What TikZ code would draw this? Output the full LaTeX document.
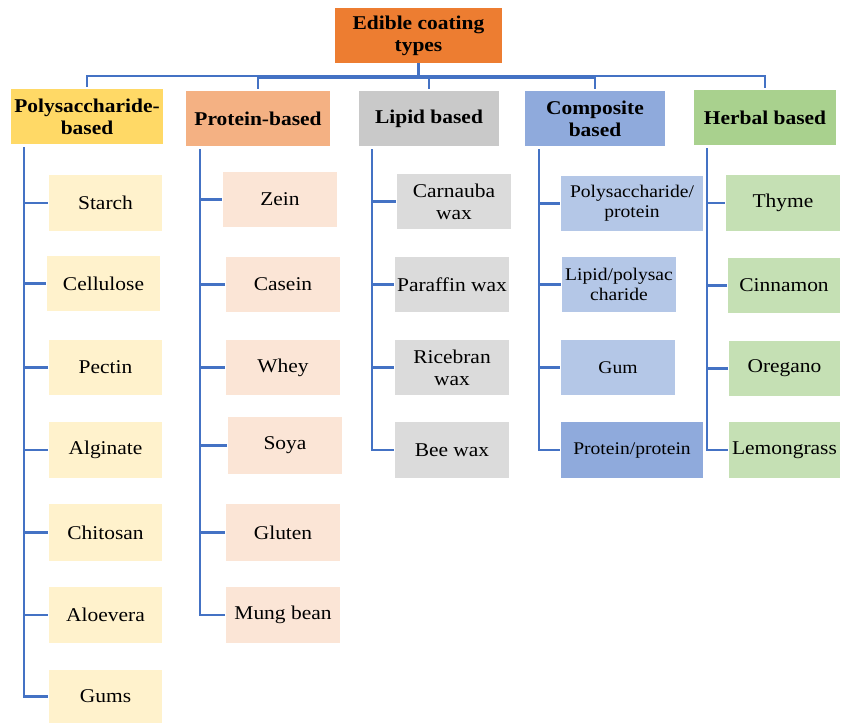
\documentclass[tikz,border=0pt]{standalone}
\usepackage{fontspec}
\setmainfont{Liberation Serif}[FakeStretch=1.1]
\definecolor{rootc}{HTML}{ED7D31}
\definecolor{linec}{HTML}{4472C4}
\definecolor{polyc}{HTML}{FFD966}
\definecolor{polyl}{HTML}{FFF2CC}
\definecolor{protc}{HTML}{F4B183}
\definecolor{protl}{HTML}{FBE5D6}
\definecolor{lipc}{HTML}{C9C9C9}
\definecolor{lipl}{HTML}{DBDBDB}
\definecolor{compc}{HTML}{8FAADC}
\definecolor{compl}{HTML}{B4C7E7}
\definecolor{herbc}{HTML}{A9D18E}
\definecolor{herbl}{HTML}{C5E0B4}
\tikzset{
  box/.style={inner sep=0pt, align=center, font=\fontsize{19.5}{22}\selectfont},
  cat/.style={box, font=\fontsize{19.5}{22}\selectfont\bfseries},
  smallbox/.style={box, font=\fontsize{17.8}{20}\selectfont},
  conn/.style={draw=linec, line width=2.2pt},
}
\newcommand\bx[7]{\node[#1, minimum width={(#5-#3)*1pt}, minimum height={(#6-#4)*1pt}] (#2) at ({(#3+#5)/2},{(#4+#6)/2}) {#7};}
\begin{document}
\begin{tikzpicture}[x=1pt,y=-1pt]
\useasboundingbox (0,0) rectangle (841,723);
% root and categories
\bx{cat,fill=rootc}{root}{335}{8}{502}{63}{Edible coating\\types}
\bx{cat,fill=polyc}{poly}{11}{89}{163}{144}{Polysaccharide-\\based}
\bx{cat,fill=protc}{prot}{186}{91}{330}{146}{Protein-based}
\bx{cat,fill=lipc}{lip}{359}{91}{499}{146}{Lipid based}
\bx{cat,fill=compc}{comp}{525}{91}{665}{146}{Composite\\based}
\bx{cat,fill=herbc}{herb}{694}{90}{836}{145}{Herbal based}
% polysaccharide children
\bx{box,fill=polyl}{starch}{49}{175}{162}{231}{Starch}
\bx{box,fill=polyl}{cellulose}{47}{256}{160}{311}{Cellulose}
\bx{box,fill=polyl}{pectin}{49}{340}{162}{395}{Pectin}
\bx{box,fill=polyl}{alginate}{49}{422}{162}{478}{Alginate}
\bx{box,fill=polyl}{chitosan}{49}{504}{162}{561}{Chitosan}
\bx{box,fill=polyl}{aloevera}{49}{587}{162}{643}{Aloevera}
\bx{box,fill=polyl}{gums}{49}{670}{162}{723}{Gums}
% protein children
\bx{box,fill=protl}{zein}{223}{172}{337}{227}{Zein}
\bx{box,fill=protl}{casein}{226}{257}{340}{312}{Casein}
\bx{box,fill=protl}{whey}{226}{340}{340}{395}{Whey}
\bx{box,fill=protl}{soya}{228}{417}{342}{474}{Soya}
\bx{box,fill=protl}{gluten}{226}{504}{340}{561}{Gluten}
\bx{box,fill=protl}{mung}{226}{587}{340}{643}{Mung bean}
% lipid children
\bx{box,fill=lipl}{carnauba}{397}{174}{511}{229}{Carnauba\\wax}
\bx{box,fill=lipl}{paraffin}{395}{257}{509}{312}{Paraffin wax}
\bx{box,fill=lipl}{ricebran}{395}{340}{509}{395}{Ricebran\\wax}
\bx{box,fill=lipl}{beewax}{395}{422}{509}{478}{Bee wax}
% composite children
\bx{smallbox,fill=compl}{pp}{561}{176}{703}{231}{Polysaccharide/\\protein}
\bx{smallbox,fill=compl}{lp}{562}{257}{676}{312}{Lipid/polysac\\charide}
\bx{smallbox,fill=compl}{gum}{561}{340}{675}{395}{Gum}
\bx{smallbox,fill=compc}{protprot}{561}{422}{703}{478}{Protein/protein}
% herbal children
\bx{box,fill=herbl}{thyme}{726}{175}{840}{231}{Thyme}
\bx{box,fill=herbl}{cinnamon}{728}{258}{840}{313}{Cinnamon}
\bx{box,fill=herbl}{oregano}{729}{341}{840}{396}{Oregano}
\bx{box,fill=herbl}{lemon}{729}{422}{840}{478}{Lemongrass}
% bus from root
\coordinate (busA) at (root.south |- 0,76);
\coordinate (busB) at (root.south |- 0,78);
\draw[conn] (root.south) -- (busA) -| ([yshift=2pt]poly.north);
\draw[conn] (root.south) -- (busB) -| ([yshift=2pt]prot.north);
\draw[conn] (root.south) -- (busB) -| ([yshift=2pt]lip.north);
\draw[conn] (root.south) -- (busB) -| ([yshift=2pt]comp.north);
\draw[conn] (root.south) -- (busA) -| ([yshift=2pt]herb.north);
% trunks
\coordinate (tpoly) at (24,147);
\coordinate (tprot) at (200,149);
\coordinate (tlip) at (372,149);
\coordinate (tcomp) at (539,149);
\coordinate (therb) at (707,148);
\foreach \c in {starch,cellulose,pectin,alginate,chitosan,aloevera,gums}
  \draw[conn] (tpoly) |- ([xshift=-1pt]\c.west);
\foreach \c in {zein,casein,whey,soya,gluten,mung}
  \draw[conn] (tprot) |- ([xshift=-1pt]\c.west);
\foreach \c in {carnauba,paraffin,ricebran,beewax}
  \draw[conn] (tlip) |- ([xshift=-1pt]\c.west);
\foreach \c in {pp,lp,gum,protprot}
  \draw[conn] (tcomp) |- ([xshift=-1pt]\c.west);
\foreach \c in {thyme,cinnamon,oregano,lemon}
  \draw[conn] (therb) |- ([xshift=-1pt]\c.west);
\end{tikzpicture}
\end{document}
